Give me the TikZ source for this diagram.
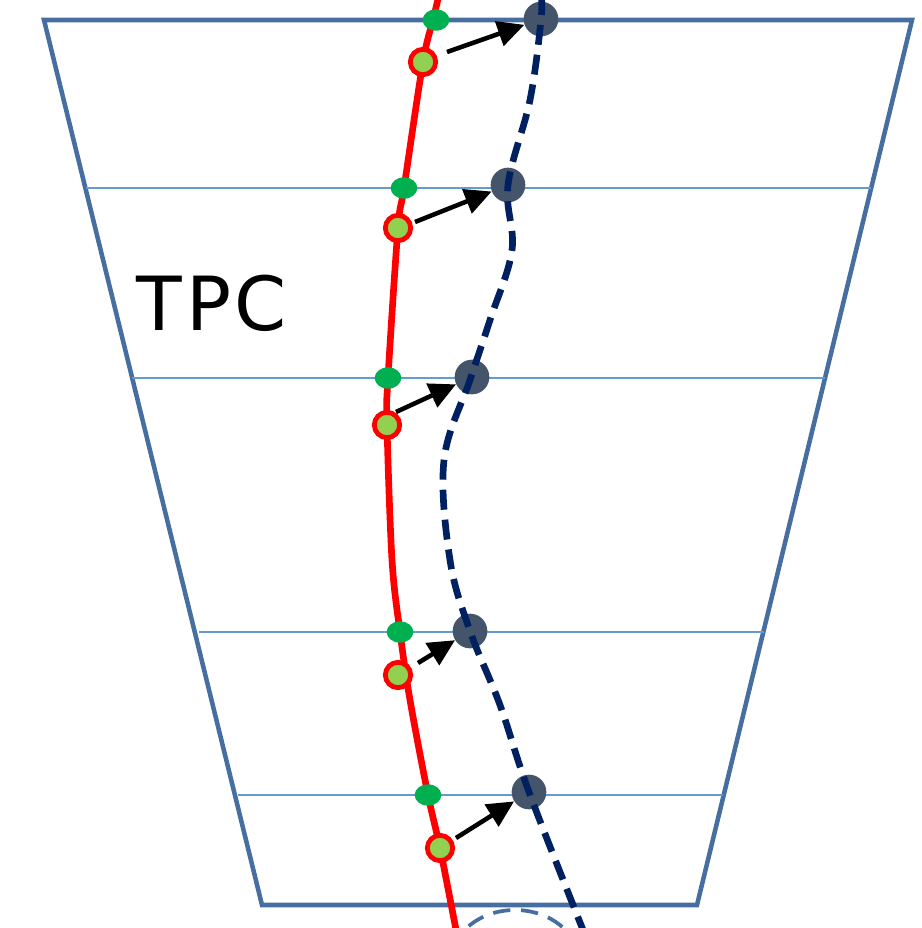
\documentclass[tikz,border=0pt]{standalone}
\usepackage{fontspec}
\usetikzlibrary{arrows.meta,shapes.geometric}
\newfontfamily\lblfont[LetterSpace=5]{DejaVu Sans}
\definecolor{frameblue}{RGB}{70,110,160}
\definecolor{gridblue}{RGB}{100,155,210}
\definecolor{trackred}{RGB}{255,0,0}
\definecolor{hitgreen}{RGB}{0,176,80}
\definecolor{lightgreen}{RGB}{146,208,80}
\definecolor{navy}{RGB}{0,32,96}
\definecolor{slate}{RGB}{68,84,106}
\tikzset{
  framepen/.style={draw=frameblue, line width=3.4pt, line join=miter},
  gridline/.style={draw=gridblue, line width=1.8pt},
  redtrack/.style={draw=trackred, line width=5pt},
  navytrack/.style={draw=navy, line width=5pt, dash pattern=on 15pt off 7.5pt},
  greendot/.style={ellipse, fill=hitgreen, minimum width=20pt, minimum height=16pt, inner sep=0pt},
  ringdot/.style={circle, fill=lightgreen, draw=trackred, line width=3.6pt, minimum size=19pt, inner sep=0pt},
  slatedot/.style={circle, fill=slate, minimum size=26pt, inner sep=0pt},
  shiftarrow/.style={draw=black, line width=3.4pt, -{Triangle[length=20pt, width=19pt]}, shorten >=0pt}
}
\begin{document}
\begin{tikzpicture}[x=0.75pt, y=-0.75pt]
\useasboundingbox (0,0) rectangle (921,928);
\begin{scope}
\clip (0,0) rectangle (921,928);
% frame
\draw[framepen] (44,20) -- (912,20) -- (697,905) -- (262,905) -- cycle;
% lower dashed arc
\draw[draw=frameblue, line width=2.8pt, dash pattern=on 13pt off 8pt] (515,962) ellipse [x radius=64, y radius=52];
% horizontal planes
\coordinate (l1) at (86,188); \coordinate (r1) at (871,188);
\coordinate (l2) at (132,378); \coordinate (r2) at (825,378);
\coordinate (l3) at (199,632); \coordinate (r3) at (764,632);
\coordinate (l4) at (238,795); \coordinate (r4) at (723,795);
\draw[gridline] (l1) -- (r1);
\draw[gridline] (l2) -- (r2);
\draw[gridline] (l3) -- (r3);
\draw[gridline] (l4) -- (r4);
% red track
\draw[redtrack] plot[smooth, tension=0.55] coordinates {(439,-5) (433,20) (423,62) (404,188) (398,228) (388,378) (387,425) (392,560) (400,632) (410,700) (428,795) (440,848) (457,935)};
% hits on the red track
\node[greendot] (g1) at (436,20) {};
\node[greendot] (g2) at (404,188) {};
\node[greendot] (g3) at (388,378) {};
\node[greendot] (g4) at (400,632) {};
\node[greendot] (g5) at (428,795) {};
\node[ringdot] (c1) at (423,62) {};
\node[ringdot] (c2) at (398,228) {};
\node[ringdot] (c3) at (387,425) {};
\node[ringdot] (c4) at (398,675) {};
\node[ringdot] (c5) at (440,848) {};
% shifted points
\node[slatedot] (d1) at (541,19) {};
\node[slatedot] (d2) at (508,185) {};
\node[slatedot] (d3) at (472,377) {};
\node[slatedot] (d4) at (470,631) {};
\node[slatedot] (d5) at (529,792) {};
% navy dashed track
\draw[navytrack] plot[smooth, tension=0.6] coordinates {(541,-5) (541,20) (530,100) (508,185) (512,250) (490,320) (470,380) (444,460) (450,560) (470,631) (500,705) (529,792) (585,935)};
\end{scope}
% label
\node[font=\lblfont\fontsize{56}{60}\selectfont, anchor=center] (tpc) at (212,303) {TPC};
% shifts
\draw[shiftarrow] (c1) ++(24,-10) coordinate (a1) (a1) -- (d1);
\draw[shiftarrow] (c2) ++(17,-6) coordinate (a2) (a2) -- (d2);
\draw[shiftarrow] (c3) ++(9,-13) coordinate (a3) (a3) -- (d3);
\draw[shiftarrow] (c4) ++(20,-12) coordinate (a4) (a4) -- (d4);
\draw[shiftarrow] (c5) ++(16,-10) coordinate (a5) (a5) -- (d5);
\end{tikzpicture}
\end{document}
